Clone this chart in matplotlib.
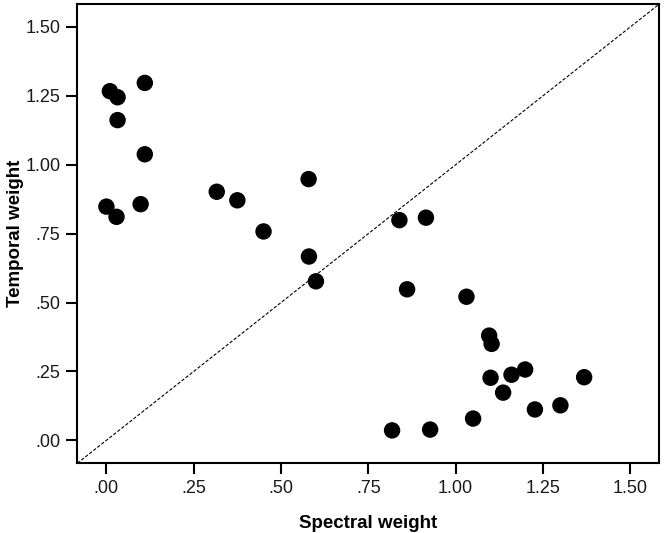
import matplotlib
matplotlib.use("Agg")
import matplotlib.pyplot as plt

plt.rcParams['font.family'] = ['Liberation Sans', 'DejaVu Sans']

# values
spectral = [0.010, 0.032, 0.110, 0.032, 0.110, 0.000, 0.029, 0.098,
            0.316, 0.375, 0.450, 0.579, 0.580, 0.600,
            0.839, 0.915, 0.861, 1.031,
            1.096, 1.103, 1.100, 1.136, 1.160, 1.199, 1.227, 1.300, 1.368,
            0.818, 0.927, 1.050]
temporal = [1.267, 1.245, 1.297, 1.162, 1.038, 0.848, 0.811, 0.857,
            0.902, 0.871, 0.758, 0.948, 0.667, 0.577,
            0.799, 0.808, 0.548, 0.521,
            0.380, 0.350, 0.227, 0.173, 0.238, 0.257, 0.112, 0.127, 0.229,
            0.036, 0.039, 0.079]

ticks = [0.0, 0.25, 0.5, 0.75, 1.0, 1.25, 1.5]
tick_labels = ['.00', '.25', '.50', '.75', '1.00', '1.25', '1.50']
lims = (-1 / 12, 1.5 + 1 / 12)

fig = plt.figure(figsize=(6.64, 5.33), dpi=100)
ax = fig.add_axes([0.1164, 0.1308, 0.8766, 0.8617])

# identity reference line, corner to corner
ax.plot(lims, lims, color='black', lw=0.8, linestyle=(0, (3, 1.6)), zorder=1)
ax.scatter(spectral, temporal, s=140, color='black', edgecolors='none', zorder=3)

ax.set_xlim(lims)
ax.set_ylim(lims)
ax.set_xticks(ticks)
ax.set_xticklabels(tick_labels)
ax.set_yticks(ticks)
ax.set_yticklabels(tick_labels)
ax.tick_params(direction='out', length=8, width=1.5, labelsize=13, pad=4,
               colors='black', labelcolor='#1a1a1a')

for sp in ax.spines.values():
    sp.set_linewidth(1.5)

ax.set_xlabel('Spectral weight', fontsize=13.5, fontweight='bold', labelpad=13)
ax.set_ylabel('Temporal weight', fontsize=13.5, fontweight='bold', labelpad=1)

fig.savefig('out.png', dpi=100)
